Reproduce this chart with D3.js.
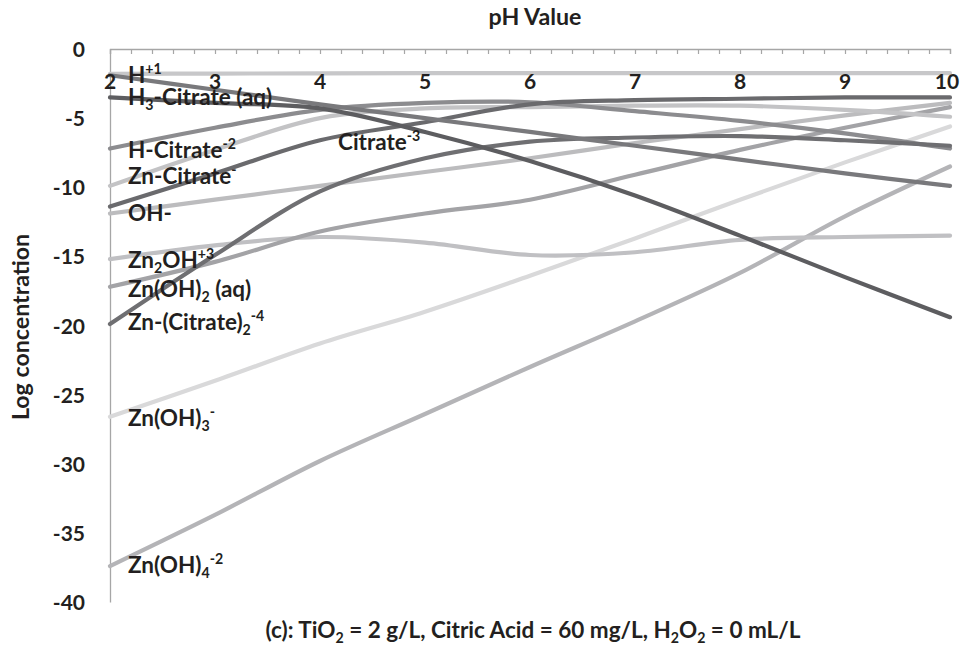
<!DOCTYPE html>
<html><head><meta charset="utf-8">
<script src="https://cdn.jsdelivr.net/npm/d3@7"></script>
<style>
html,body{margin:0;padding:0;background:#fff;}
svg{display:block;font-family:Lato,"Open Sans",sans-serif;font-weight:700;}
</style></head>
<body><svg id="chart" width="965" height="649"></svg>
<script>
// ---- data ----
const pH = [2, 3, 4, 5, 6, 7, 8, 9, 10];
const yTicks = [0, -5, -10, -15, -20, -25, -30, -35, -40];
const xTickLabels = [2, 3, 4, 5, 6, 7, 8, 9, 10];
const flatTop   = [-1.8, -1.78, -1.76, -1.75, -1.75, -1.75, -1.75, -1.75, -1.75];
const hPlus     = [-1.9, -2.95, -4.0, -5.0, -6.0, -7.0, -8.0, -9.0, -9.9];
const h3Citrate = [-3.5, -3.9, -4.3, -6.0, -8.1, -10.6, -13.5, -16.5, -19.4];
const hCitrate  = [-7.2, -5.7, -4.4, -3.9, -3.85, -4.5, -5.2, -6.1, -7.2];
const znCitrate = [-9.9, -7.3, -5.0, -4.3, -4.2, -4.1, -4.1, -4.4, -4.9];
const citrate   = [-11.4, -9.0, -6.6, -5.3, -4.0, -3.7, -3.6, -3.5, -3.5];
const hydroxide = [-11.9, -10.9, -9.9, -8.9, -7.9, -6.8, -5.8, -4.8, -3.9];
const znCitrate2= [-19.9, -14.9, -10.3, -7.9, -6.7, -6.4, -6.3, -6.6, -7.0];
const zn2OH     = [-15.2, -14.2, -13.6, -14.0, -14.9, -14.7, -13.8, -13.6, -13.5];
const znOH2     = [-17.2, -15.4, -13.2, -11.9, -10.9, -9.1, -7.3, -5.7, -4.2];
const znOH3     = [-26.6, -24.0, -21.3, -19.0, -16.4, -13.7, -10.9, -8.2, -5.6];
const znOH4     = [-37.4, -33.7, -29.8, -26.4, -23.0, -19.7, -16.2, -12.1, -8.5];

// ---- styles (separate from data) ----
const seriesList = [
  {values: flatTop,    color: "#c7c7c9"},
  {values: znOH4,      color: "#b4b4b7"},
  {values: znOH3,      color: "#d9d9da"},
  {values: zn2OH,      color: "#c0c0c3"},
  {values: znOH2,      color: "#a3a3a6"},
  {values: hydroxide,  color: "#bcbcbe"},
  {values: znCitrate,  color: "#c3c3c5"},
  {values: hCitrate,   color: "#8c8c8f"},
  {values: znCitrate2, color: "#6f6f72"},
  {values: citrate,    color: "#6a6a6d"},
  {values: hPlus,      color: "#79797c"},
  {values: h3Citrate,  color: "#5d5d60"}
];
const labels = [
  {t: "H^{+1}", x: 128, y: 83},
  {t: "H_{3}-Citrate (aq)", x: 128, y: 105},
  {t: "H-Citrate^{-2}", x: 128, y: 158},
  {t: "Zn-Citrate^{-}", x: 128, y: 184},
  {t: "OH-", x: 128, y: 221},
  {t: "Zn_{2}OH^{+3}", x: 128, y: 268},
  {t: "Zn(OH)_{2} (aq)", x: 128, y: 297},
  {t: "Zn-(Citrate)_{2}^{-4}", x: 128, y: 330},
  {t: "Zn(OH)_{3}^{-}", x: 128, y: 426},
  {t: "Zn(OH)_{4}^{-2}", x: 128, y: 573},
  {t: "Citrate^{-3}", x: 338, y: 150}
];

const svg = d3.select("#chart");
const x = d3.scaleLinear().domain([2, 10]).range([110, 950]);
const y = d3.scaleLinear().domain([-40, 0]).range([602, 49]);
const textColor = "#231f20";
const labelSize = 22.5, tickSize = 21, titleSize = 23.2;

function richText(sel, str, size) {
  const re = /([_^])\{([^}]*)\}|([^_^]+)/g;
  let m, prevShift = 0;
  while ((m = re.exec(str)) !== null) {
    let txt, shift = 0, fs = size;
    if (m[3] !== undefined) { txt = m[3]; }
    else { txt = m[2]; fs = size * 0.63; shift = m[1] === "^" ? -0.38 * size : 0.24 * size; }
    sel.append("tspan").attr("dy", shift - prevShift).attr("font-size", fs).text(txt);
    prevShift = shift;
  }
}

// axes
const xMinor = d3.range(0, 41).map(i => 2 + i * 0.2);
const gx = svg.append("g").attr("transform", "translate(0,49)")
  .call(d3.axisBottom(x).tickValues(xMinor).tickSize(5).tickFormat(""));
gx.select(".domain").attr("stroke", "#a6a6a6").attr("stroke-width", 1.3);
gx.selectAll(".tick line").attr("stroke", "#a6a6a6").attr("stroke-width", 1.2);

const gy = svg.append("g").attr("transform", "translate(110,0)")
  .call(d3.axisLeft(y).tickValues(yTicks).tickSize(0).tickPadding(25).tickFormat(d => String(d)));
gy.select(".domain").attr("stroke", "#a6a6a6").attr("stroke-width", 1.3);
gy.selectAll(".tick text").attr("font-size", tickSize).attr("font-weight", 700)
  .attr("fill", textColor).attr("font-family", "Lato, sans-serif").attr("dy", "0.36em");

// lines
const line = d3.line().x((d, i) => x(pH[i])).y(d => y(d)).curve(d3.curveCatmullRom.alpha(0.5));
svg.append("g").selectAll("path").data(seriesList).join("path")
  .attr("d", s => line(s.values)).attr("fill", "none")
  .attr("stroke", s => s.color).attr("stroke-width", 4.2)
  .attr("stroke-linecap", "round").attr("stroke-linejoin", "round");

// x tick labels
svg.append("g").selectAll("text").data(xTickLabels).join("text")
  .attr("x", d => x(d) - (d === 10 ? 3 : 0)).attr("y", 89).attr("text-anchor", "middle")
  .attr("font-size", tickSize).attr("fill", textColor).text(d => d);

// series labels
labels.forEach(l => {
  const t = svg.append("text").attr("x", l.x).attr("y", l.y).attr("fill", textColor).attr("font-size", labelSize);
  richText(t, l.t, labelSize);
});

// titles
svg.append("text").attr("x", 535).attr("y", 25).attr("text-anchor", "middle")
  .attr("font-size", titleSize).attr("fill", textColor).text("pH Value");
svg.append("text").attr("transform", "translate(29,327) rotate(-90)").attr("text-anchor", "middle")
  .attr("font-size", titleSize).attr("fill", textColor).text("Log concentration");
const cap = svg.append("text").attr("x", 533).attr("y", 638).attr("text-anchor", "middle")
  .attr("fill", textColor).attr("font-size", 22.5);
richText(cap, "(c): TiO_{2} = 2 g/L, Citric Acid = 60 mg/L, H_{2}O_{2} = 0 mL/L", 22.5);
</script></body></html>
